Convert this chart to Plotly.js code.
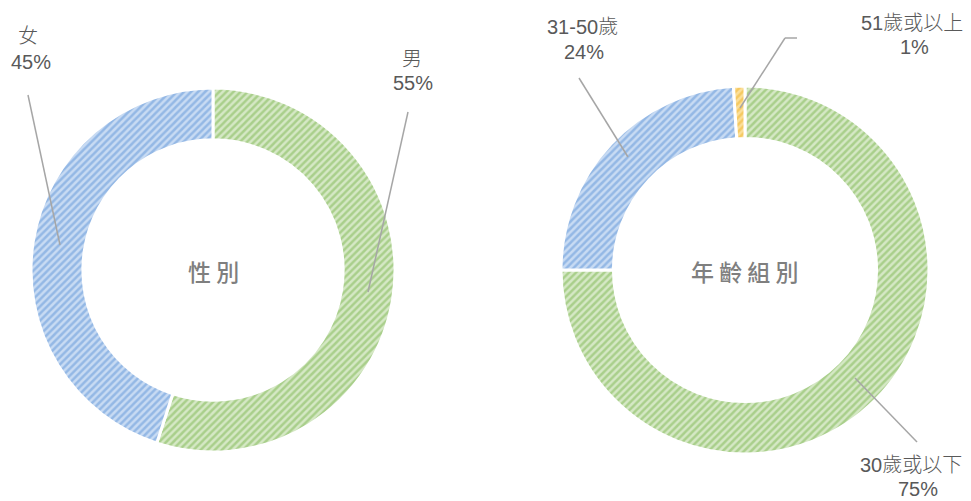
<!DOCTYPE html>
<html>
<head>
<meta charset="utf-8">
<script src="https://cdn.plot.ly/plotly-3.0.1.min.js"></script>
<style>html,body{margin:0;padding:0;background:#fff;}#chart{width:971px;height:501px;}</style>
</head>
<body>
<div id="chart"></div>
<script>
// ---- data ----
const genderTitle = '性 別';
const genderLabels = ['男', '女'];
const genderValues = [55, 45];
const ageTitle = '年 齡 組 別';
const ageLabels = ['30歲或以下', '31-50歲', '51歲或以上'];
const ageValues = [75, 24, 1];

// ---- styling ----
const FONT = '"Noto Sans CJK TC", "Noto Sans", sans-serif';
const LFONT = '"Liberation Sans", "Noto Sans CJK TC", sans-serif';
const W = 971, H = 501;
const px = x => x / W;
const py = y => 1 - y / H;
const fgGreen = '#7db552', bgGreen = '#d5e8c5';
const fgBlue = '#5f95d8', bgBlue = '#c8dbf3';
const fgYellow = '#f0b42a', bgYellow = '#fbdf9a';

function pie(labels, values, domain, fg, bg) {
  return {
    type: 'pie', labels: labels, values: values, sort: false,
    direction: 'clockwise', rotation: 0, hole: 0.715,
    textinfo: 'none', showlegend: false,
    domain: domain,
    marker: {
      colors: bg,
      line: {color: '#ffffff', width: 3},
      pattern: {shape: '/', fillmode: 'overlay', fgcolor: fg, bgcolor: bg, size: 5, solidity: 0.5}
    }
  };
}

const traces = [
  pie(genderLabels, genderValues, {x: [px(31), px(395)], y: [py(452), py(88)]}, [fgGreen, fgBlue], [bgGreen, bgBlue]),
  pie(ageLabels, ageValues, {x: [px(561), px(929)], y: [py(454), py(86)]}, [fgGreen, fgBlue, fgYellow], [bgGreen, bgBlue, bgYellow])
];

// label positions (pixels): [x name, y name, x pct, y pct]
const genderLabelPos = [[412, 59, 413, 83], [28, 36, 31, 62]];
const ageLabelPos = [[911, 465, 918, 489], [582, 27, 584, 52], [912, 23, 914, 47]];
const genderLines = [[[408, 112], [368, 292]], [[28, 95], [60, 245]]];
const ageLines = [[[855, 378], [917, 442]], [[579, 78], [628, 157]], [[740, 108], [785, 38], [797, 38]]];

const annotations = [];
const shapes = [];
function addLabels(labels, values, pos, lines) {
  labels.forEach((l, i) => {
    const p = pos[i];
    annotations.push({
      xref: 'paper', yref: 'paper', x: px(p[0]), y: py(p[1]),
      text: l, showarrow: false, xanchor: 'center', yanchor: 'middle',
      font: {family: LFONT, size: 20, color: '#595959', weight: 300}
    });
    annotations.push({
      xref: 'paper', yref: 'paper', x: px(p[2]), y: py(p[3]),
      text: values[i] + '%', showarrow: false, xanchor: 'center', yanchor: 'middle',
      font: {family: LFONT, size: 20, color: '#595959', weight: 300}
    });
    const pts = lines[i];
    for (let k = 0; k < pts.length - 1; k++) {
      shapes.push({type: 'line', xref: 'paper', yref: 'paper',
        x0: px(pts[k][0]), y0: py(pts[k][1]), x1: px(pts[k + 1][0]), y1: py(pts[k + 1][1]),
        line: {color: '#a6a6a6', width: 1.5}});
    }
  });
}
addLabels(genderLabels, genderValues, genderLabelPos, genderLines);
addLabels(ageLabels, ageValues, ageLabelPos, ageLines);

annotations.push({xref: 'paper', yref: 'paper', x: px(213), y: py(271), text: genderTitle, showarrow: false,
  xanchor: 'center', yanchor: 'middle',
  font: {family: FONT, size: 23, color: '#7f7f7f', weight: 500}});
annotations.push({xref: 'paper', yref: 'paper', x: px(745), y: py(271), text: ageTitle, showarrow: false,
  xanchor: 'center', yanchor: 'middle',
  font: {family: FONT, size: 23, color: '#7f7f7f', weight: 500}});

const layout = {
  width: W, height: H, margin: {l: 0, r: 0, t: 0, b: 0},
  paper_bgcolor: '#ffffff', plot_bgcolor: '#ffffff',
  font: {family: FONT},
  annotations: annotations, shapes: shapes
};
Plotly.newPlot('chart', traces, layout, {displayModeBar: false, staticPlot: true});
</script>
</body>
</html>
